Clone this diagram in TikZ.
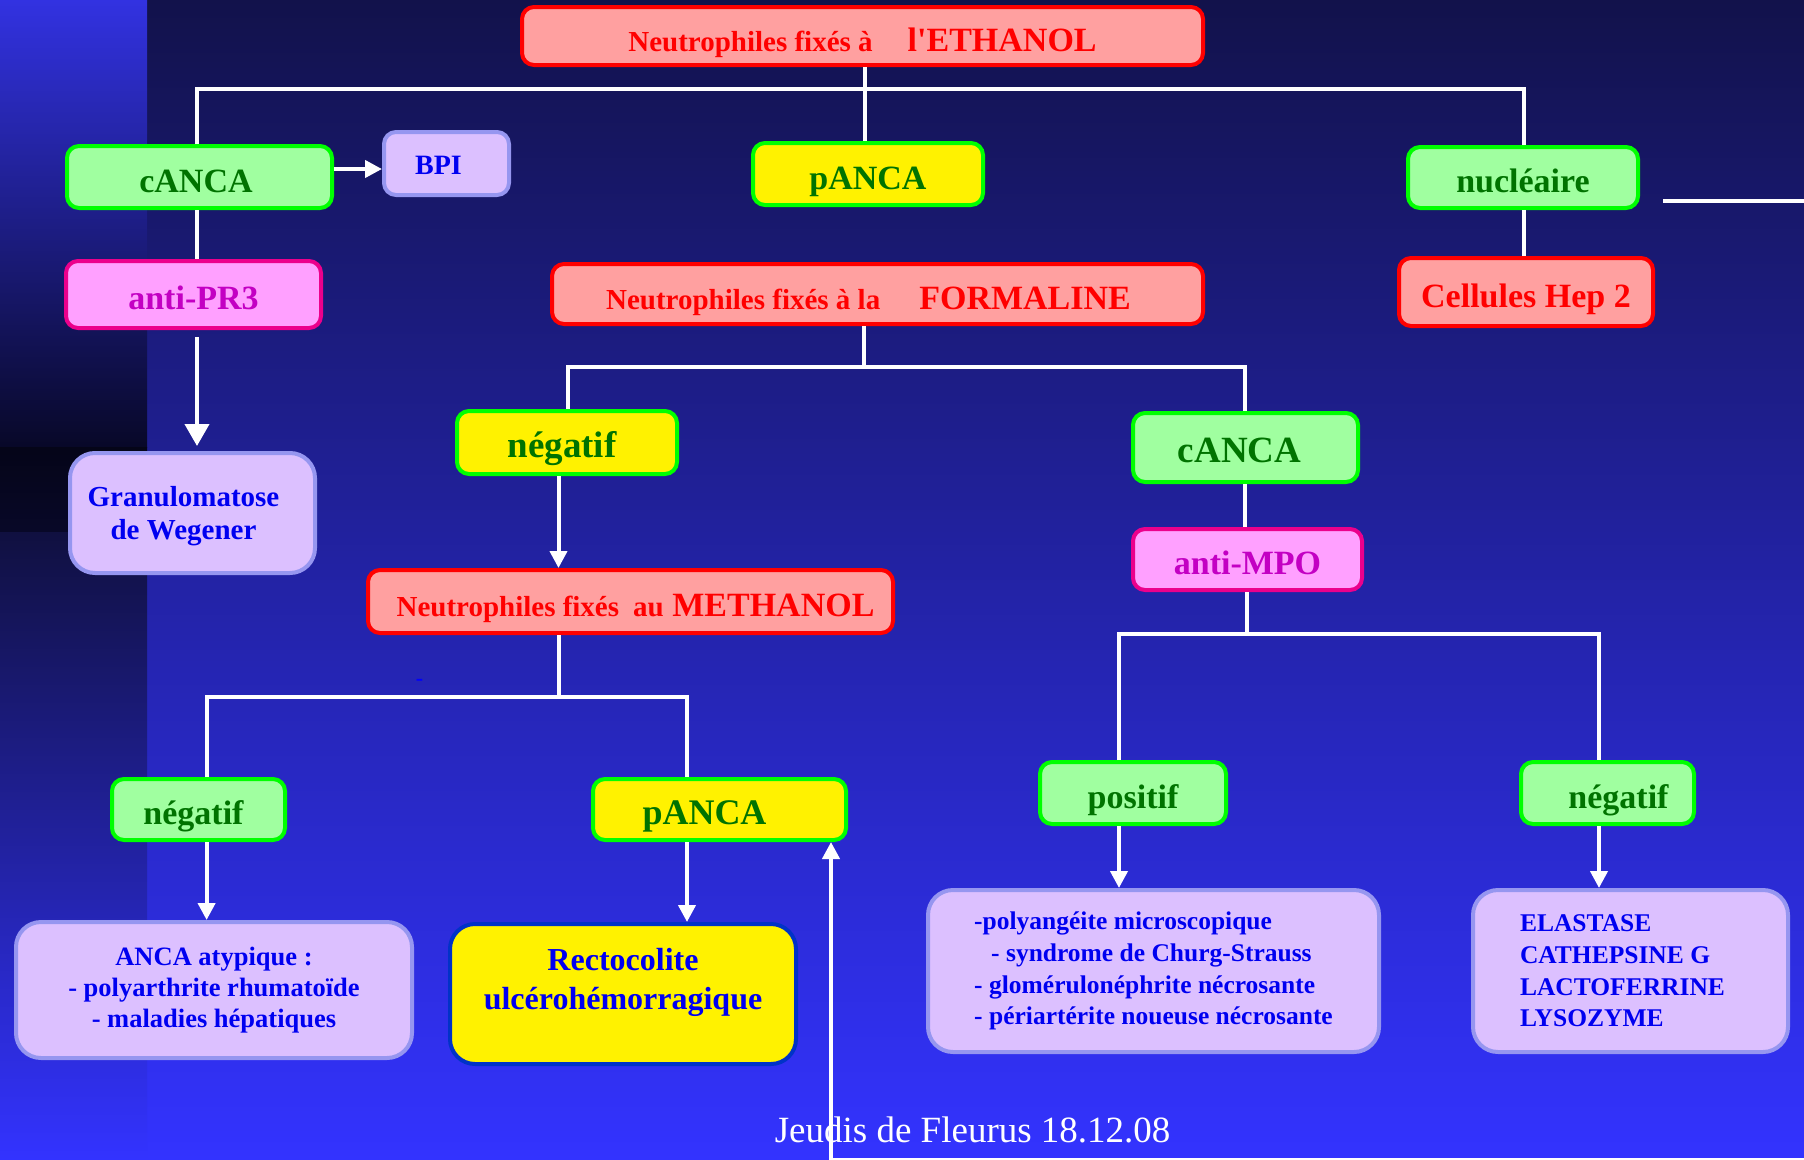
\documentclass[tikz,border=0pt]{standalone}
\usepackage{fontspec}
\setmainfont{Liberation Serif}
\usepackage{xcolor}
\usetikzlibrary{positioning,arrows.meta}

\definecolor{bgTop}{RGB}{18,18,75}
\definecolor{bgMid}{RGB}{40,40,195}
\definecolor{bgBot}{RGB}{51,51,255}
\definecolor{stripTop}{RGB}{50,50,225}
\definecolor{stripDark}{RGB}{8,8,40}
\definecolor{stripLow}{RGB}{16,16,64}
\definecolor{fillGreen}{RGB}{160,255,160}
\definecolor{lineGreen}{RGB}{0,255,0}
\definecolor{txtGreen}{RGB}{0,115,0}
\definecolor{fillSalmon}{RGB}{255,160,160}
\definecolor{fillPink}{RGB}{255,160,255}
\definecolor{txtPink}{RGB}{195,0,195}
\definecolor{fillLav}{RGB}{220,192,255}
\definecolor{lineLav}{RGB}{150,150,240}
\definecolor{txtBlue}{RGB}{0,0,240}
\definecolor{lineRecto}{RGB}{0,50,200}

\begin{document}
\begin{tikzpicture}[x=1pt,y=-1pt,
      box/.style={rounded corners=12pt,line width=4pt,inner sep=0pt,align=center,font=\bfseries\fontsize{34}{40}\selectfont},
      one/.style={box,text height=30pt,text depth=0pt},
      grn/.style={one,draw=lineGreen,fill=fillGreen,text=txtGreen},
      ylw/.style={one,draw=lineGreen,fill=yellow,text=txtGreen},
      sal/.style={one,draw=red,fill=fillSalmon,text=red},
      pnk/.style={one,draw=magenta,fill=fillPink,text=txtPink},
      lav/.style={box,draw=lineLav,fill=fillLav,text=txtBlue,rounded corners=25pt},
      fsSmall/.style={font=\bfseries\fontsize{25.5}{31.7}\selectfont},
      link/.style={draw=white,line width=4pt},
      arr/.style={link,-{Triangle[length=17pt,width=17pt]}}]
    % background
    \useasboundingbox (0,0) rectangle (1804,1159);
    \shade[top color=bgTop,middle color=bgMid,bottom color=bgBot] (0,0) rectangle (1804,1159);
    \shade[top color=stripTop,bottom color=stripDark] (0,0) rectangle (147,447);
    \shade[top color=stripDark!60!black,middle color=black,bottom color=stripDark] (0,447) rectangle (147,532);
    \shade[top color=stripLow,bottom color=bgBot] (0,532) rectangle (147,1159);

    \newcommand{\lead}[1]{{\fontsize{29}{34}\selectfont #1}}
    % first level
    \node[sal,minimum width=681,minimum height=58] (eth) at (862.5,36) {\lead{Neutrophiles fixés à}\hspace{35pt}l\textquotesingle ETHANOL};
    \node[grn,minimum width=265,minimum height=62] (cA1) at (199.5,177) {cANCA\hspace*{7pt}};
    \node[lav,rounded corners=12pt,minimum width=125,minimum height=63,text height=21pt,text depth=0pt,
          font=\bfseries\fontsize{28}{32}\selectfont] (bpi) at (446.5,163.5) {BPI\hspace*{16pt}};
    \node[ylw,minimum width=230,minimum height=62] (pa1) at (868,174) {pANCA};
    \node[grn,minimum width=230,minimum height=61] (nuc) at (1523,177.5) {nucléaire};
    \node[pnk,minimum width=255,minimum height=67] (pr3) at (193.5,294.5) {anti-PR3};
    \node[sal,minimum width=651,minimum height=60] (form) at (877.5,294) {\lead{Neutrophiles fixés à la}\hspace{39pt}FORMALINE\hspace*{18pt}};
    \node[sal,minimum width=254,minimum height=68] (hep) at (1526,292) {Cellules Hep 2};
    \node[lav,minimum width=245,minimum height=120,text depth=0pt,font=\bfseries\fontsize{29}{33}\selectfont] (weg) at (192.5,513)
          {Granulomatose\hspace*{18pt}\\de Wegener\hspace*{18pt}};

    % formaline branches
    \node[ylw,minimum width=220,minimum height=63,font=\bfseries\fontsize{37}{42}\selectfont] (neg1) at (567,442.5) {négatif\hspace*{10pt}};
    \node[grn,minimum width=225,minimum height=69,font=\bfseries\fontsize{37}{42}\selectfont] (cA2) at (1245.5,447.5) {cANCA\hspace*{12pt}};
    \node[pnk,minimum width=229,minimum height=61] (mpo) at (1247.5,559.5) {anti-MPO};
    \node[sal,minimum width=525,minimum height=63] (meth) at (630.5,601.5) {\hspace*{10pt}\lead{Neutrophiles fixés\hspace{14pt}au} METHANOL};
    \node[text=blue,font=\bfseries\fontsize{22}{24}\selectfont,inner sep=0pt] (dash) at (419.5,682.5) {-};

    % methanol branches
    \node[grn,minimum width=173,minimum height=61] (neg2) at (198.5,809.5) {négatif\hspace*{10pt}};
    \node[ylw,minimum width=253,minimum height=61,font=\bfseries\fontsize{36}{40}\selectfont] (pa2) at (719.5,809.5) {pANCA\hspace*{30pt}};
    \node[lav,minimum width=396,minimum height=136,font=\bfseries\fontsize{26.5}{31.3}\selectfont] (anca) at (214,990) {ANCA atypique :\\- polyarthrite rhumatoïde\\- maladies hépatiques};
    \node[box,draw=lineRecto,fill=yellow,text=txtBlue,rounded corners=25pt,minimum width=346,minimum height=140,
          font=\bfseries\fontsize{32}{39}\selectfont,text depth=31pt] (recto) at (623,994) {Rectocolite\\ulcérohémorragique};

    % MPO branches
    \node[grn,minimum width=186,minimum height=62] (pos) at (1133,793) {positif};
    \node[grn,minimum width=173,minimum height=62] (neg3) at (1607.5,793) {\hspace*{22pt}négatif};
    \node[lav,fsSmall,align=left,minimum width=451,minimum height=162] (poly) at (1153.5,971) {-polyangéite microscopique\\\hspace*{17pt}- syndrome de Churg-Strauss\\- glomérulonéphrite nécrosante\\- périartérite noueuse nécrosante};
    \node[lav,fsSmall,align=left,minimum width=315,minimum height=162] (elas) at (1630.5,971) {ELASTASE\\CATHEPSINE G\\LACTOFERRINE\rule{16pt}{0pt}\\LYSOZYME};

    \node[text=white,font=\fontsize{37}{44}\selectfont,anchor=base west,inner sep=0pt] (foot) at (774.6,1142.7) {Jeudis de Fleurus 18.12.08};

    % connectors
    \coordinate (jTop) at (865,88.6);
    \coordinate (lA) at (197,88.6);
    \coordinate (lC) at (1524,88.6);
    \draw[link] (jTop |- eth.south) -- (jTop |- pa1.north);
    \draw[link] (lA |- cA1.north) -- (lA) -- (lC) -- (lC |- nuc.north);
    \draw[arr] ([yshift=8]cA1.east) -- ([yshift=-5.5]bpi.west);
    \draw[link] (lA |- cA1.south) -- (lA |- pr3.north);
    \draw[link,shorten <=7pt,shorten >=5pt,-{Triangle[length=22pt,width=24pt]}] (lA |- pr3.south) -- (lA |- weg.north);
    \draw[link] (lC |- nuc.south) -- (lC |- hep.north);

    \coordinate (jForm) at (864,366.6);
    \coordinate (lE) at (568,366.6);
    \coordinate (lG) at (1245,366.6);
    \draw[link] (jForm |- form.south) -- (jForm);
    \draw[link] (lE |- neg1.north) -- (lE) -- (lG) -- (lG |- cA2.north);
    \draw[link] (lG |- cA2.south) -- (lG |- mpo.north);

    \coordinate (lF) at (558.5,697.4);
    \coordinate (lH) at (206.6,697.4);
    \coordinate (lI) at (687,697.4);
    \draw[arr] (lF |- neg1.south) -- (lF |- meth.north);
    \draw[link] (lF |- meth.south) -- (lF);
    \draw[link] (lH |- neg2.north) -- (lH) -- (lI) -- (lI |- pa2.north);
    \draw[arr] (lH |- neg2.south) -- (lH |- anca.north);
    \draw[arr] (lI |- pa2.south) -- (lI |- recto.north);

    \coordinate (jMpo) at (1246.5,633.5);
    \coordinate (lJ) at (1119,633.5);
    \coordinate (lK) at (1599,633.5);
    \draw[link] (jMpo |- mpo.south) -- (jMpo);
    \draw[link] (lJ |- pos.north) -- (lJ) -- (lK) -- (lK |- neg3.north);
    \draw[arr] (lJ |- pos.south) -- (lJ |- poly.north);
    \draw[arr] (lK |- neg3.south) -- (lK |- elas.north);

    % return arrow and loose line
    \coordinate (upFoot) at (831,1160);
    \coordinate (edgeR) at (1804,1160);
    \draw[arr] (edgeR) -- (upFoot) -- (upFoot |- pa2.south);
    \coordinate (strayA) at (1663,201);
    \coordinate (strayB) at (1804,201);
    \draw[link] (strayA) -- (strayB);
  \end{tikzpicture}
\end{document}
